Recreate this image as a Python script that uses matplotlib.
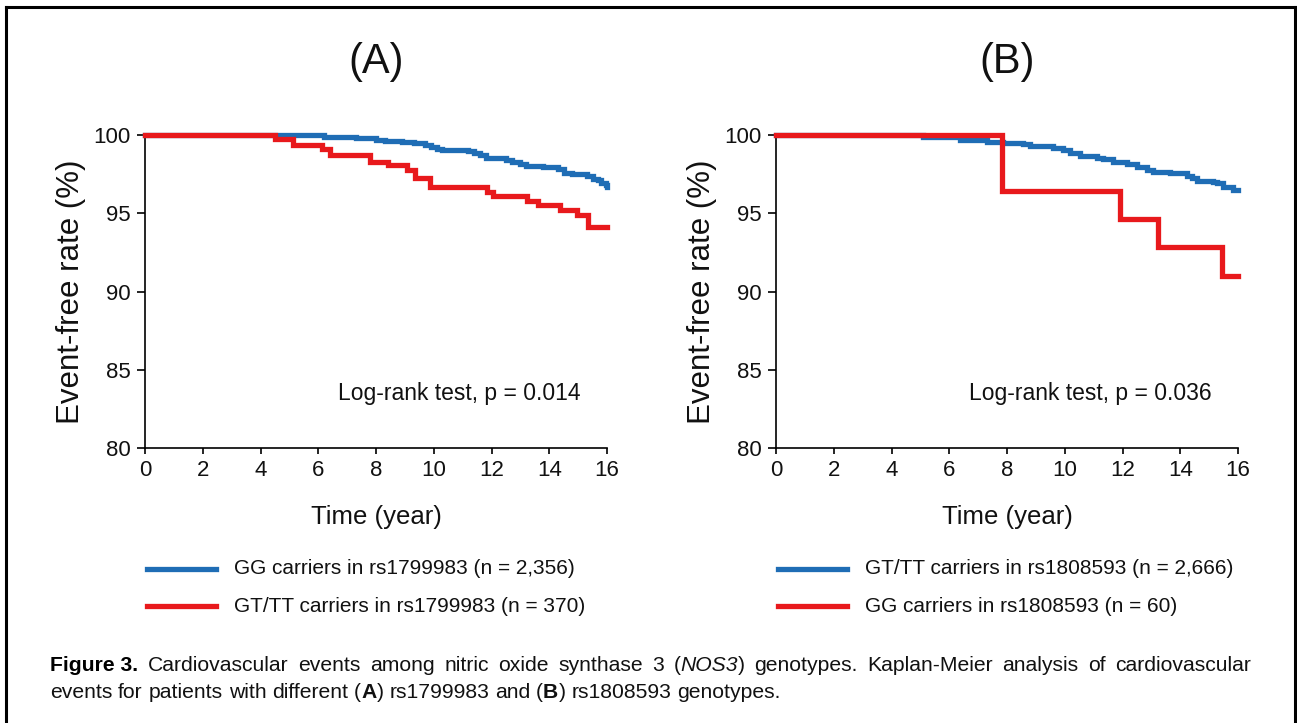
import matplotlib
matplotlib.use('Agg')
import matplotlib.pyplot as plt
from matplotlib.lines import Line2D
from matplotlib import font_manager

plt.rcParams['font.family'] = ['Liberation Sans', 'DejaVu Sans']

# ---------------- data ----------------
panel_titles = ['(A)', '(B)']
x_ticks = [0, 2, 4, 6, 8, 10, 12, 14, 16]
y_ticks = [80, 85, 90, 95, 100]
pvalue_texts = ['Log-rank test, p = 0.014', 'Log-rank test, p = 0.036']

# Panel A
a_blue_t = [0, 5.0, 6.2, 7.3, 8.0, 8.3, 8.9, 9.3, 9.7, 9.9, 10.1, 10.3, 11.2, 11.4, 11.6,
            11.8, 12.5, 12.7, 13.0, 13.2, 13.8, 14.3, 14.5, 14.8, 15.3, 15.5, 15.7, 15.8,
            15.95, 16.0]
a_blue_s = [100, 99.97, 99.9, 99.8, 99.7, 99.64, 99.55, 99.5, 99.35, 99.25, 99.1, 99.04,
            98.95, 98.83, 98.7, 98.55, 98.4, 98.3, 98.15, 98.05, 97.95, 97.85, 97.6, 97.5,
            97.35, 97.2, 97.1, 96.95, 96.8, 96.7]
a_red_t = [0, 4.50, 5.14, 6.12, 6.41, 7.79, 8.43, 9.06, 9.35, 9.87, 11.83, 12.06, 13.22,
           13.62, 14.37, 14.95, 15.35, 16.0]
a_red_s = [100, 99.74, 99.36, 99.08, 98.72, 98.30, 98.08, 97.76, 97.23, 96.70, 96.38,
           96.12, 95.80, 95.53, 95.21, 94.89, 94.10, 94.10]

# Panel B
b_blue_t = [0, 5.10, 6.37, 7.30, 7.87, 8.56, 8.8, 9.60, 9.95, 10.18, 10.53, 11.11, 11.34,
            11.68, 12.14, 12.49, 12.84, 13.07, 13.64, 14.22, 14.40, 14.57, 15.15, 15.26,
            15.49, 15.84, 16.0]
b_blue_s = [100, 99.85, 99.68, 99.57, 99.51, 99.42, 99.30, 99.15, 99.04, 98.83, 98.66,
            98.55, 98.45, 98.30, 98.15, 97.98, 97.76, 97.66, 97.55, 97.40, 97.23, 97.08,
            97.00, 96.91, 96.70, 96.49, 96.49]
b_red_t = [0, 7.84, 11.91, 13.22, 15.43, 16.0]
b_red_s = [100, 96.44, 94.61, 92.82, 91.01, 91.01]

legend_a = ['GG carriers in rs1799983 (n = 2,356)', 'GT/TT carriers in rs1799983 (n = 370)']
legend_b = ['GT/TT carriers in rs1808593 (n = 2,666)', 'GG carriers in rs1808593 (n = 60)']

BLUE = '#1f6db5'
RED = '#e8191c'
TXT = '#111111'

W, H = 1297, 723
fig = plt.figure(figsize=(W / 100, H / 100), dpi=100)
fig.patch.set_facecolor('white')


def fx(px):
    return px / W


def fy(py):
    return 1 - py / H


panels = [
    (145, (a_blue_t, a_blue_s), (a_red_t, a_red_s), legend_a),
    (776, (b_blue_t, b_blue_s), (b_red_t, b_red_s), legend_b),
]

for i, (left_px, blue, red, leg) in enumerate(panels):
    ax = fig.add_axes([fx(left_px), fy(448), 462 / W, (448 - 135) / H])
    ax.step(blue[0], blue[1], where='post', color=BLUE, lw=3.8, clip_on=False,
            solid_joinstyle='miter', zorder=3)
    ax.step(red[0], red[1], where='post', color=RED, lw=3.8, clip_on=False,
            solid_joinstyle='miter', zorder=4)
    ax.set_xlim(0, 16)
    ax.set_ylim(80, 100)
    ax.set_xticks(x_ticks)
    ax.set_yticks(y_ticks)
    for s in ['top', 'right']:
        ax.spines[s].set_visible(False)
    for s in ['left', 'bottom']:
        ax.spines[s].set_linewidth(1.2)
        ax.spines[s].set_color('black')
    ax.tick_params(axis='y', length=5.5, width=1.2, labelsize=16, pad=5, colors='black',
                   labelcolor=TXT)
    ax.tick_params(axis='x', length=4, width=1.2, labelsize=16, pad=5, colors='black',
                   labelcolor=TXT)
    ax.set_xlabel('Time (year)', fontsize=18.5, color=TXT, labelpad=17)
    ax.set_ylabel('Event-free rate (%)', fontsize=22.5, color=TXT, labelpad=5)
    ax.text(0.68, 0.175, pvalue_texts[i], transform=ax.transAxes, ha='center',
            va='center', fontsize=16.5, color=TXT)
    ax.set_title(panel_titles[i], fontsize=30, color=TXT, pad=45)

    # legend (manual)
    lx0 = left_px + 2
    for j, (lab, col) in enumerate(zip(leg, [BLUE, RED])):
        yy = 569 + j * 37
        fig.add_artist(Line2D([fx(lx0), fx(lx0 + 69)], [fy(yy), fy(yy)], color=col, lw=3.8,
                              transform=fig.transFigure))
        fig.text(fx(lx0 + 87), fy(yy), lab, fontsize=15, va='center', ha='left', color=TXT)

# outer frame
for xs, ys in [([6, 6], [7, 740]), ([6, 1295], [7, 7]), ([1295, 1295], [7, 740])]:
    fig.add_artist(Line2D([fx(x) for x in xs], [fy(y) for y in ys], color='black', lw=2.2,
                          transform=fig.transFigure, solid_capstyle='projecting'))

# ---------------- caption ----------------
names = {f.name for f in font_manager.fontManager.ttflist}
bold_fam = ['Liberation Sans Narrow'] if 'Liberation Sans Narrow' in names else ['Liberation Sans']
cap_fs = 15.2
r = fig.canvas.get_renderer()

N = {}
I = {'style': 'italic'}
B = {'weight': 'bold'}


def measure(pieces):
    w = 0
    for txt, kw in pieces:
        t = fig.text(0, 0, txt, fontsize=cap_fs, **kw)
        w += t.get_window_extent(renderer=r).width
        t.remove()
    return w


def place(pieces, x, yb):
    for txt, kw in pieces:
        t = fig.text(fx(x), fy(yb), txt, fontsize=cap_fs, va='baseline', ha='left',
                     color=TXT, **kw)
        x += t.get_window_extent(renderer=r).width
    return x


fig.text(fx(50), fy(671), 'Figure 3.', fontsize=cap_fs, weight='bold',
         family=bold_fam, va='baseline', ha='left', color='black')

line1 = [[('Cardiovascular', N)], [('events', N)], [('among', N)], [('nitric', N)],
         [('oxide', N)], [('synthase', N)], [('3', N)], [('(', N), ('NOS3', I), (')', N)],
         [('genotypes.', N)], [('Kaplan-Meier', N)], [('analysis', N)], [('of', N)],
         [('cardiovascular', N)]]
x_start, x_end = 148, 1251
widths = [measure(wd) for wd in line1]
gap = (x_end - x_start - sum(widths)) / (len(line1) - 1)
x = x_start
for wd, w in zip(line1, widths):
    place(wd, x, 671)
    x += w + gap

space = measure([('n n', N)]) - measure([('nn', N)])
line2 = [[('events', N)], [('for', N)], [('patients', N)], [('with', N)], [('different', N)],
         [('(', N), ('A', B), (')', N)], [('rs1799983', N)], [('and', N)],
         [('(', N), ('B', B), (')', N)], [('rs1808593', N)], [('genotypes.', N)]]
x = 50
for wd in line2:
    x = place(wd, x, 698) + space

fig.savefig('out.png', dpi=100, facecolor='white')
